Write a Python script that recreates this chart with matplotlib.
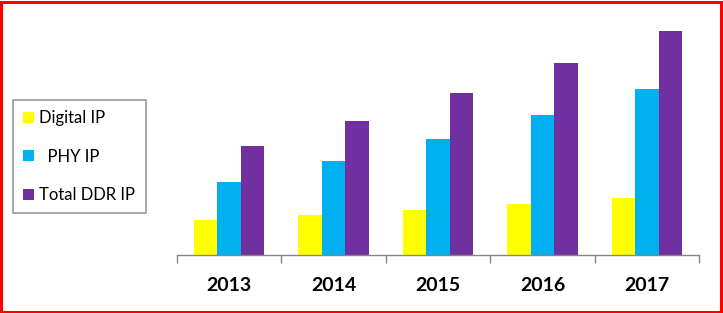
import matplotlib
matplotlib.use("Agg")
import matplotlib.pyplot as plt
from matplotlib.patches import Rectangle
import numpy as np

years = ["2013", "2014", "2015", "2016", "2017"]
digital_ip = [35, 40, 45, 51, 57]
phy_ip = [73, 94, 116, 140, 166]
total_ddr_ip = [109, 134, 162, 192, 224]

series_names = ["Digital IP", "  PHY IP", "Total DDR IP"]
colors = ["#FFFF00", "#00B0F0", "#7030A0"]

W, H = 723, 313
fig = plt.figure(figsize=(W / 100, H / 100), dpi=100)
ax = fig.add_axes([177 / W, (H - 255) / H, (699 - 177) / W, (255 - 20) / H])

x = np.arange(len(years))
bw = 0.225
handles = []
for i, (vals, c, name) in enumerate(zip([digital_ip, phy_ip, total_ddr_ip], colors, series_names)):
    b = ax.bar(x + (i - 1) * bw, vals, width=bw, color=c, label=name, edgecolor="none")
    handles.append(b)

ax.set_xlim(-0.5, len(years) - 0.5)
ax.set_ylim(0, 235)
for s in ["top", "right", "left"]:
    ax.spines[s].set_visible(False)
ax.spines["bottom"].set_color("#868686")
ax.spines["bottom"].set_linewidth(1)
ax.set_yticks([])
ax.set_xticks(x)
ax.set_xticklabels(years, fontsize=14, fontweight="bold", family="Lato")
ax.tick_params(axis="x", which="major", length=0, pad=16)
ax.set_xticks(np.arange(-0.5, len(years)), minor=True)
ax.tick_params(axis="x", which="minor", length=6, color="#868686", width=1)

leg = fig.legend(handles=handles, labels=series_names, loc="upper left",
                 bbox_to_anchor=(13 / W, 1 - 100 / H), frameon=True, fancybox=False,
                 prop={"family": "Lato", "size": 12}, handlelength=0.65, handleheight=0.65,
                 handletextpad=0.3, labelspacing=1.34, borderpad=0.62, borderaxespad=0)
leg.get_frame().set_edgecolor("#7F7F7F")
leg.get_frame().set_linewidth(1.2)

fig.patches.append(Rectangle((0.5 / W, 1.5 / H), 1 - 3 / W, 1 - 3 / H, transform=fig.transFigure,
                             fill=False, edgecolor="#FF0000", linewidth=2.2))

fig.savefig("out.png", dpi=100)
